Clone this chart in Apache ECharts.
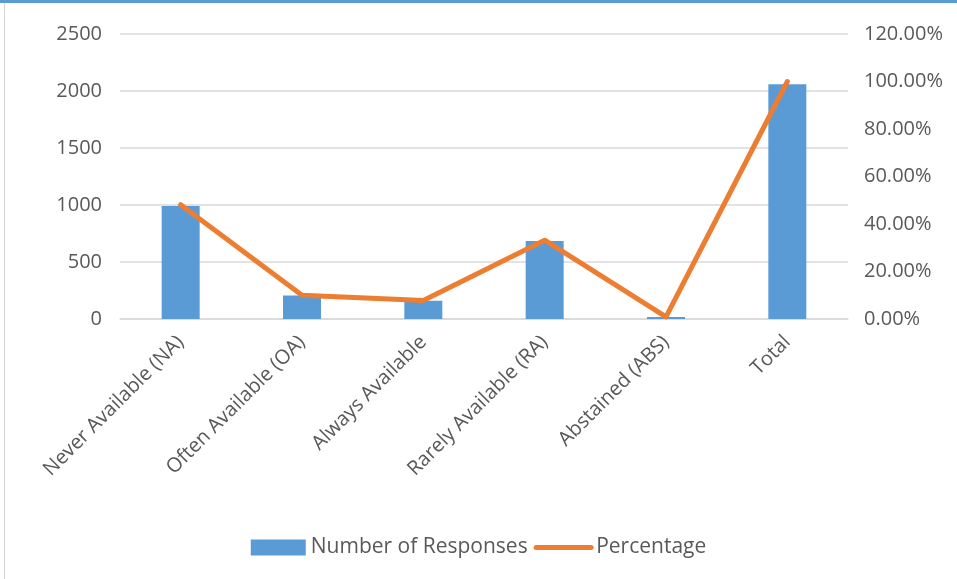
<!DOCTYPE html>
<html>
<head>
<meta charset="utf-8">
<script src="https://cdn.jsdelivr.net/npm/echarts@6/dist/echarts.min.js"></script>
<style>
  html, body { margin: 0; padding: 0; background: #fff; }
  .frame { position: relative; width: 957px; height: 579px; }
  .top-strip { position: absolute; left: 0; top: 0; width: 957px; height: 3px; background: #5b9bd5; }
  .left-line { position: absolute; left: 4px; top: 3px; width: 1px; height: 576px; background: #d6d6d6; }
  #chart { position: absolute; left: 0; top: 0; width: 957px; height: 579px; }
</style>
</head>
<body>
<div class="frame">
  <div id="chart"></div>
  <div class="top-strip"></div>
  <div class="left-line"></div>
</div>
<script>
const categories = ['Never Available (NA)', 'Often Available (OA)', 'Always Available', 'Rarely Available (RA)', 'Abstained (ABS)', 'Total']
const responses = [991, 206, 160, 684, 18, 2059]
const percentage = [48.1, 10.0, 7.8, 33.2, 0.9, 100]

const font = '"Open Sans", sans-serif'
const textColor = '#595959'

const chart = echarts.init(document.getElementById('chart'))
chart.setOption({
  animation: false,
  textStyle: { fontFamily: font },
  grid: { left: 120, right: 109, top: 34, bottom: 260, containLabel: false },
  legend: {
    top: 532,
    left: 'center',
    itemGap: 6,
    itemWidth: 55,
    itemHeight: 16,
    textStyle: { color: textColor, fontSize: 21, fontFamily: font },
    data: [
      { name: 'Number of Responses', icon: 'rect' },
      { name: 'Percentage', itemStyle: { opacity: 0 }, lineStyle: { width: 5, cap: 'round' } }
    ]
  },
  xAxis: {
    type: 'category',
    data: categories,
    axisLine: { lineStyle: { color: '#d9d9d9', width: 1.5 } },
    axisTick: { show: false },
    axisLabel: { rotate: 45, color: textColor, fontSize: 20, margin: 20, interval: 0, fontFamily: font }
  },
  yAxis: [
    {
      type: 'value', min: 0, max: 2500, interval: 500,
      axisLine: { show: false }, axisTick: { show: false },
      axisLabel: { color: textColor, fontSize: 20, margin: 18, fontFamily: font, formatter: v => String(v) },
      splitLine: { lineStyle: { color: '#d9d9d9', width: 1.5 } }
    },
    {
      type: 'value', min: 0, max: 120, interval: 20,
      axisLine: { show: false }, axisTick: { show: false },
      axisLabel: {
        color: textColor, fontSize: 20, margin: 16, fontFamily: font,
        formatter: v => v.toFixed(2) + '%'
      },
      splitLine: { show: false }
    }
  ],
  series: [
    {
      name: 'Number of Responses',
      type: 'bar',
      data: responses,
      barWidth: 38,
      itemStyle: { color: '#5b9bd5' }
    },
    {
      name: 'Percentage',
      type: 'line',
      yAxisIndex: 1,
      data: percentage,
      symbol: 'none',
      lineStyle: { color: '#ed7d31', width: 5, cap: 'round', join: 'round' },
      itemStyle: { color: '#ed7d31' }
    }
  ]
})
</script>
</body>
</html>
